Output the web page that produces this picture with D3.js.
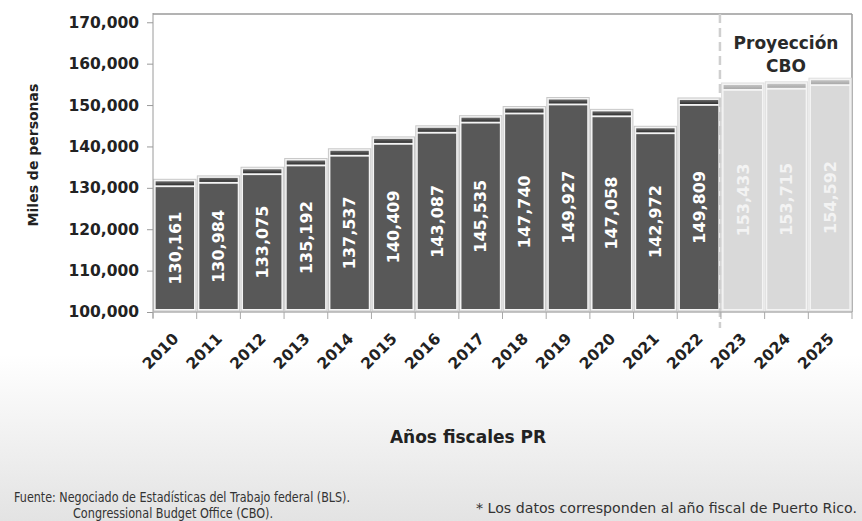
<!DOCTYPE html>
<html>
<head>
<meta charset="utf-8">
<style>
body { margin: 0; background: #fff; }
text { font-family: "DejaVu Sans", sans-serif; }
</style>
</head>
<body>
<svg width="862" height="521"></svg>
<script src="https://cdn.jsdelivr.net/npm/d3@7"></script>
<script>
// datos
var years = ["2010","2011","2012","2013","2014","2015","2016","2017","2018","2019","2020","2021","2022","2023","2024","2025"];
var empleo = [130161,130984,133075,135192,137537,140409,143087,145535,147740,149927,147058,142972,149809,153433,153715,154592];
var projected = ["2023","2024","2025"];
var yTicks = [100000,110000,120000,130000,140000,150000,160000,170000];

var svg = d3.select("svg");
var margin = {top: 14, right: 10, bottom: 209, left: 153};
var width = 862 - margin.left - margin.right,
    height = 521 - margin.top - margin.bottom;

// fondo con degradado
var defs = svg.append("defs");
var grad = defs.append("linearGradient").attr("id", "bg").attr("x1", 0).attr("y1", 0).attr("x2", 0).attr("y2", 1);
grad.append("stop").attr("offset", "0%").attr("stop-color", "#ffffff");
grad.append("stop").attr("offset", "100%").attr("stop-color", "#e3e3e3");
svg.append("rect").attr("x", 0).attr("y", 355).attr("width", 862).attr("height", 166).attr("fill", "url(#bg)");

var capGrad = defs.append("linearGradient").attr("id", "cap").attr("x1", 0).attr("y1", 0).attr("x2", 0).attr("y2", 1);
capGrad.append("stop").attr("offset", "0%").attr("stop-color", "#6a6a6a");
capGrad.append("stop").attr("offset", "100%").attr("stop-color", "#2e2e2e");
var capGradP = defs.append("linearGradient").attr("id", "capP").attr("x1", 0).attr("y1", 0).attr("x2", 0).attr("y2", 1);
capGradP.append("stop").attr("offset", "0%").attr("stop-color", "#c4c4c4");
capGradP.append("stop").attr("offset", "100%").attr("stop-color", "#a8a8a8");

var g = svg.append("g").attr("transform", "translate(" + margin.left + "," + margin.top + ")");

var x = d3.scaleBand().domain(years).range([0, width]).paddingInner(0.03).paddingOuter(0.015);
var xb = d3.scaleBand().domain(years).range([0, width]);
var y = d3.scaleLinear().domain([100000, 172000]).range([height, 0]);

// marco
g.append("line").attr("x1", 0).attr("x2", width).attr("y1", 0).attr("y2", 0).attr("stroke", "#9a9a9a").attr("stroke-width", 1.5);
g.append("line").attr("x1", width).attr("x2", width).attr("y1", 0).attr("y2", height).attr("stroke", "#9a9a9a").attr("stroke-width", 1.5);

var data = years.map(function(d, i) { return {year: d, value: empleo[i], proj: projected.indexOf(d) >= 0}; });

var bar = g.selectAll(".bar").data(data).enter().append("g").attr("class", "bar");

// borde exterior
bar.append("rect")
  .attr("x", function(d) { return x(d.year); })
  .attr("y", function(d) { return y(d.value + 1900); })
  .attr("width", x.bandwidth())
  .attr("height", function(d) { return height - y(d.value + 1900) - 1; })
  .attr("fill", "#f4f4f4")
  .attr("stroke", function(d) { return d.proj ? "#dedede" : "#c8c8c8"; })
  .attr("stroke-width", 1);

// tapa
bar.append("rect")
  .attr("x", function(d) { return x(d.year) + 2; })
  .attr("y", function(d) { return y(d.value + 1900) + 2; })
  .attr("width", x.bandwidth() - 4)
  .attr("height", 4)
  .attr("fill", function(d) { return d.proj ? "url(#capP)" : "url(#cap)"; });

// cuerpo
bar.append("rect")
  .attr("x", function(d) { return x(d.year) + 2; })
  .attr("y", function(d) { return y(d.value); })
  .attr("width", x.bandwidth() - 4)
  .attr("height", function(d) { return height - y(d.value) - 3; })
  .attr("fill", function(d) { return d.proj ? "#d9d9d9" : "#585858"; });

// etiquetas de valor
bar.append("text")
  .attr("transform", function(d) {
    var cx = x(d.year) + x.bandwidth() / 2;
    var cy = (y(d.value) + height - 3) / 2;
    return "translate(" + cx + "," + cy + ") rotate(-90)";
  })
  .attr("text-anchor", "middle")
  .attr("dy", "0.36em")
  .attr("fill", function(d) { return d.proj ? "#f3f3f3" : "#ffffff"; })
  .attr("font-size", 16)
  .attr("font-weight", "bold")
  .text(function(d) { return d3.format(",")(d.value); });

// linea de proyeccion
g.append("line")
  .attr("x1", xb("2023") - 1).attr("x2", xb("2023") - 1)
  .attr("y1", 0).attr("y2", height + 16)
  .attr("stroke", "#cfcfcf").attr("stroke-width", 2.5)
  .attr("stroke-dasharray", "9,5");

g.append("text").attr("x", 633).attr("y", 35).attr("text-anchor", "middle")
  .attr("font-size", 17).attr("font-weight", "bold").attr("fill", "#2a2a2a").text("Proyección");
g.append("text").attr("x", 633).attr("y", 58).attr("text-anchor", "middle")
  .attr("font-size", 17).attr("font-weight", "bold").attr("fill", "#2a2a2a").text("CBO");

// eje y
var yAxis = g.append("g")
  .call(d3.axisLeft(y).tickValues(yTicks).tickFormat(d3.format(",")).tickSize(6).tickSizeOuter(0));
yAxis.select(".domain").attr("stroke", "#9a9a9a").attr("d", "M0,-1V" + (height + 6));
yAxis.selectAll(".tick line").attr("stroke", "#9a9a9a");
yAxis.selectAll(".tick text").attr("font-size", 15.5).attr("font-weight", "bold").attr("fill", "#222").attr("x", -14);

// eje x
var xAxis = g.append("g").attr("transform", "translate(0," + height + ")");
xAxis.append("line").attr("x1", 0).attr("x2", width).attr("stroke", "#b0b0b0").attr("stroke-width", 1.5);
xAxis.selectAll(".tk").data(years.concat(["end"])).enter().append("line")
  .attr("x1", function(d, i) { return i * xb.bandwidth(); })
  .attr("x2", function(d, i) { return i * xb.bandwidth(); })
  .attr("y1", 0).attr("y2", 7).attr("stroke", "#a8a8a8");
xAxis.selectAll(".lbl").data(years).enter().append("text")
  .attr("transform", function(d) {
    return "translate(" + (xb(d) + xb.bandwidth() / 2 - 3) + ",20) rotate(-45)";
  })
  .attr("text-anchor", "end")
  .attr("dy", "0.7em")
  .attr("font-size", 15.5)
  .attr("font-weight", "bold")
  .attr("fill", "#222")
  .text(function(d) { return d; });

// titulos
svg.append("text")
  .attr("transform", "translate(38,155) rotate(-90)")
  .attr("text-anchor", "middle")
  .attr("font-size", 14).attr("font-weight", "bold").attr("fill", "#222")
  .text("Miles de personas");

svg.append("text")
  .attr("x", 468).attr("y", 443).attr("text-anchor", "middle")
  .attr("font-size", 17).attr("font-weight", "bold").attr("fill", "#222")
  .text("Años fiscales PR");

// notas
svg.append("text").attr("x", 14).attr("y", 502).attr("font-size", 14).attr("fill", "#333")
  .attr("textLength", 336).attr("lengthAdjust", "spacingAndGlyphs")
  .text("Fuente: Negociado de Estadísticas del Trabajo federal (BLS).");
svg.append("text").attr("x", 73).attr("y", 518).attr("font-size", 14).attr("fill", "#333")
  .attr("textLength", 200).attr("lengthAdjust", "spacingAndGlyphs")
  .text("Congressional Budget Office (CBO).");
svg.append("text").attr("x", 476).attr("y", 513).attr("font-size", 13.5).attr("fill", "#333")
  .attr("textLength", 381).attr("lengthAdjust", "spacingAndGlyphs")
  .text("* Los datos corresponden al año fiscal de Puerto Rico.");
</script>
</body>
</html>
